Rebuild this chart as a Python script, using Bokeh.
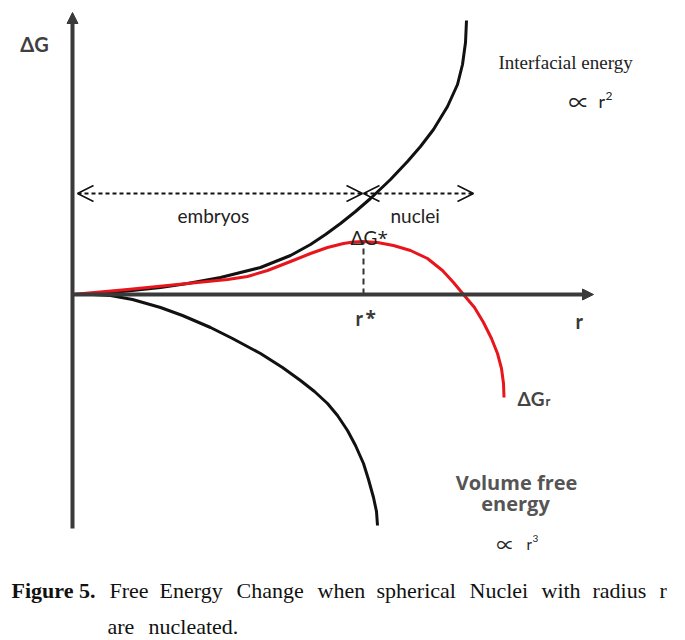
from bokeh.plotting import figure
from bokeh.models import Range1d, Arrow, NormalHead, OpenHead
from bokeh.core.properties import value
from bokeh.embed import file_html
from bokeh.resources import INLINE

# ---- data (r and ΔG in arbitrary units) ----
interf_r = [0, .28, .55, .88, 1.15, 1.48, 1.88, 2.03, 2.18, 2.38, 2.53, 2.68, 2.83, 2.98, 3.18, 3.35, 3.48, 3.61, 3.75, 3.85, 3.90, 3.93, 3.94]
interf_g = [0, .01, .035, .07, .11, .17, .27, .33, .39, .50, .60, .71, .83, .96, 1.15, 1.33, 1.48, 1.65, 1.88, 2.10, 2.30, 2.52, 2.74]

volume_r = [0, .20, .38, .60, .88, 1.10, 1.38, 1.60, 1.88, 2.10, 2.28, 2.42, 2.55, 2.65, 2.75, 2.83, 2.91, 2.96, 3.01, 3.04, 3.05]
volume_g = [0, 0, -.01, -.05, -.13, -.21, -.33, -.44, -.59, -.73, -.86, -.97, -1.09, -1.21, -1.36, -1.51, -1.69, -1.85, -2.03, -2.17, -2.31]

total_r = [0, .55, 1.15, 1.55, 1.75, 1.95, 2.18, 2.38, 2.55, 2.71, 2.81, 2.91, 3.05, 3.21, 3.38, 3.55, 3.70, 3.81, 3.91, 4.02, 4.11, 4.19, 4.25, 4.29, 4.31, 4.315]
total_g = [0, .05, .11, .15, .18, .24, .33, .41, .47, .51, .525, .53, .52, .49, .44, .36, .24, .12, 0, -.13, -.28, -.44, -.59, -.74, -.89, -1.03]

r_star = 2.91
dg_star = 0.53
r_axis_end = 5.21
g_axis_top = 2.82
g_axis_bottom = -2.34
region_level = 1.01
embryo_span = [0.05, 2.90]
nuclei_span = [2.91, 4.01]

caption_words_1 = ["Free", "Energy", "Change", "when", "spherical", "Nuclei", "with", "radius", "r"]
caption_words_2 = ["are", "nucleated."]

# ---- figure ----
p = figure(width=685, height=640, output_backend="svg", toolbar_location=None,
           x_range=Range1d(-0.72, 6.13), y_range=Range1d(-3.46, 2.94),
           min_border=0, x_axis_location=None, y_axis_location=None)
p.grid.visible = False
p.outline_line_color = None
p.background_fill_color = "white"

AX = "#3a3a3a"
# axes as arrows
p.add_layout(Arrow(end=NormalHead(size=11, fill_color=AX, line_color=AX, line_width=1),
                   x_start=0, y_start=g_axis_bottom, x_end=0, y_end=g_axis_top,
                   line_color=AX, line_width=4))
p.add_layout(Arrow(end=NormalHead(size=11, fill_color=AX, line_color=AX, line_width=1),
                   x_start=-0.01, y_start=0, x_end=r_axis_end, y_end=0,
                   line_color=AX, line_width=4))

# curves
p.line(interf_r, interf_g, line_color="#111111", line_width=3, line_join="round")
p.line(volume_r, volume_g, line_color="#111111", line_width=3, line_join="round")
p.line(total_r, total_g, line_color="#e8161c", line_width=3, line_join="round")

# critical radius dashed line
p.line([r_star, r_star], [0, dg_star], line_color="#333333", line_width=2, line_dash="6 4")

# embryos / nuclei dashed double arrows
for span in (embryo_span, nuclei_span):
    p.add_layout(Arrow(start=OpenHead(size=16, line_width=1.6, line_color="#111111"),
                       end=OpenHead(size=16, line_width=1.6, line_color="#111111"),
                       x_start=span[0], y_start=region_level, x_end=span[1], y_end=region_level,
                       line_color="#111111", line_width=2, line_dash="4 3"))

def txt(x, y, s, font="Lato", size="19px", style="normal", color="#222222", align="left"):
    p.text(x=[x], y=[y], text=[s], text_font=value(font), text_font_size=size,
           text_font_style=style, text_color=color, text_align=align,
           text_baseline="alphabetic")

# labels
txt(-0.38, 2.51, "ΔG", size="20px", style="bold", color="#404040", align="center")
txt(4.26, 2.32, "Interfacial energy", font="Liberation Serif", size="19px", color="#222222")
txt(4.96, 1.94, "∝", font="Noto Sans CJK SC", size="21px", color="#222222")
txt(5.26, 1.94, "r", size="18px", color="#222222")
txt(5.33, 1.99, "2", size="12px", color="#222222")
txt(1.05, 0.79, "embryos")
txt(3.18, 0.79, "nuclei")
txt(2.78, 0.57, "ΔG", size="19px")
txt(3.05, 0.57, "*", font="Open Sans", size="19px")
txt(2.83, -0.23, "r", size="20px", style="bold", color="#3a3a3a")
txt(2.93, -0.23, "*", font="Open Sans", size="19px", style="bold", color="#3a3a3a")
txt(5.03, -0.26, "r", size="20px", style="bold", color="#3a3a3a")
txt(4.45, -1.04, "ΔG", size="19px", style="bold", color="#444444")
txt(4.73, -1.06, "r", size="13px", style="bold", color="#444444")
txt(4.44, -1.88, "Volume free", font="Open Sans", size="20px", style="bold", color="#555555", align="center")
txt(4.43, -2.09, "energy", font="Open Sans", size="20px", style="bold", color="#555555", align="center")
txt(4.24, -2.49, "∝", font="Noto Sans CJK SC", size="18px", color="#222222")
txt(4.54, -2.49, "r", size="15px", color="#222222")
txt(4.60, -2.44, "3", size="10px", color="#222222")

# caption
txt(-0.61, -2.96, "Figure 5.", font="Liberation Serif", size="22px", style="bold", color="#111111")
cap_x1 = [0.37, 0.87, 1.64, 2.45, 3.04, 3.97, 4.69, 5.20, 5.87]
for x, w in zip(cap_x1, caption_words_1):
    txt(x, -2.96, w, font="Liberation Serif", size="22px", color="#111111")
cap_x2 = [0.35, 0.76]
for x, w in zip(cap_x2, caption_words_2):
    txt(x, -3.32, w, font="Liberation Serif", size="22px", color="#111111")

open("out.html", "w").write(file_html(p, INLINE))
